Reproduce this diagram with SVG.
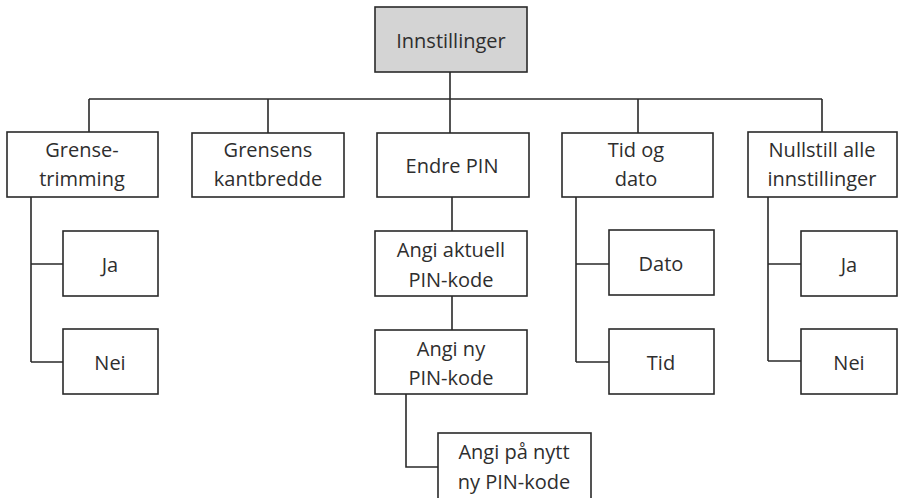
<svg xmlns="http://www.w3.org/2000/svg" width="898" height="498" viewBox="0 0 898 498">
<style>
.b{fill:#fff;stroke:#2a2a2a;stroke-width:1.6}
.g{fill:#d4d4d4}
.t{font-family:"Open Sans","Noto Sans",sans-serif;font-size:20px;fill:#2e2e2e;text-anchor:middle}
.c{fill:none;stroke:#2a2a2a;stroke-width:1.6}
</style>
<rect width="898" height="498" fill="#fff"/>
<g id="connectors" class="c">
<path d="M450,72V99M89,99H822M89,99V132M268,99V133M450,99V133M638,99V133M822,99V132"/>
<path d="M31,197V362M31,264H63M31,362H63"/>
<path d="M452,197V231M452,296V330M406,394V467H438"/>
<path d="M576,197V362M576,264H609M576,362H609"/>
<path d="M768,197V361M768,264H801M768,361H801"/>
</g>
<g id="innstillinger"><rect class="b g" x="375" y="7" width="152" height="65"/><text class="t" x="451" y="48">Innstillinger</text></g>
<g id="grensetrimming"><rect class="b" x="7" y="132" width="151" height="65"/><text class="t" x="82" y="157">Grense-</text><text class="t" x="82" y="186">trimming</text></g>
<g id="grensens"><rect class="b" x="192" y="133" width="152" height="64"/><text class="t" x="268" y="157">Grensens</text><text class="t" x="268" y="186">kantbredde</text></g>
<g id="endrepin"><rect class="b" x="377" y="133" width="152" height="64"/><text class="t" x="452" y="173">Endre PIN</text></g>
<g id="tidogdato"><rect class="b" x="562" y="133" width="151" height="64"/><text class="t" x="636" y="157">Tid og</text><text class="t" x="636" y="186">dato</text></g>
<g id="nullstill"><rect class="b" x="748" y="132" width="149" height="65"/><text class="t" x="822" y="157">Nullstill alle</text><text class="t" x="822" y="186">innstillinger</text></g>
<g id="ja1"><rect class="b" x="63" y="231" width="95" height="65"/><text class="t" x="110" y="272">Ja</text></g>
<g id="nei1"><rect class="b" x="63" y="329" width="95" height="65"/><text class="t" x="110" y="370">Nei</text></g>
<g id="angiaktuell"><rect class="b" x="375" y="231" width="152" height="65"/><text class="t" x="451" y="257">Angi aktuell</text><text class="t" x="451" y="287">PIN-kode</text></g>
<g id="anginy"><rect class="b" x="375" y="330" width="152" height="64"/><text class="t" x="451" y="356">Angi ny</text><text class="t" x="451" y="385">PIN-kode</text></g>
<g id="angipanytt"><rect class="b" x="438" y="433" width="153" height="66"/><text class="t" x="514" y="459">Angi på nytt</text><text class="t" x="514" y="489">ny PIN-kode</text></g>
<g id="dato"><rect class="b" x="609" y="230" width="105" height="65"/><text class="t" x="661" y="271">Dato</text></g>
<g id="tid"><rect class="b" x="609" y="329" width="105" height="65"/><text class="t" x="661" y="370">Tid</text></g>
<g id="ja2"><rect class="b" x="801" y="231" width="96" height="65"/><text class="t" x="849" y="272">Ja</text></g>
<g id="nei2"><rect class="b" x="801" y="329" width="96" height="65"/><text class="t" x="849" y="370">Nei</text></g>
</svg>
